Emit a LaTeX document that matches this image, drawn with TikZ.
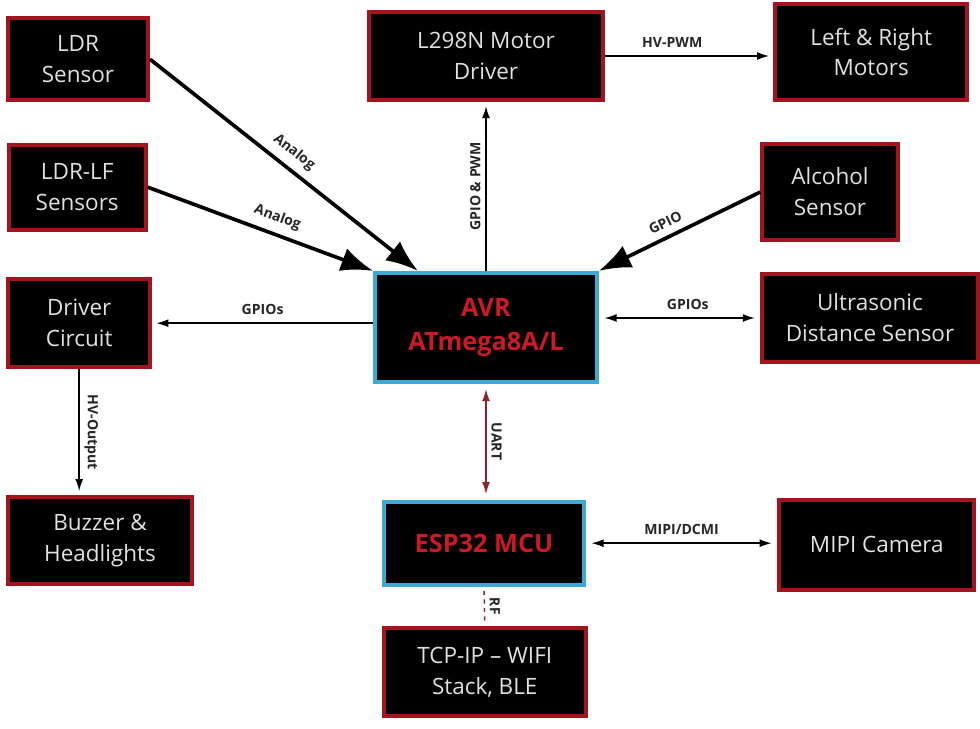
\documentclass[tikz,border=0pt]{standalone}
\usepackage{fontspec}
\setmainfont{Open Sans}
\usetikzlibrary{shapes,arrows.meta,positioning,calc}

\definecolor{boxred}{RGB}{165,20,30}
\definecolor{mcublue}{RGB}{60,170,215}
\definecolor{mcured}{RGB}{205,25,35}
\definecolor{linkred}{RGB}{140,35,45}
\definecolor{boxtext}{RGB}{225,225,225}

\begin{document}
\begin{tikzpicture}[
  block/.style={draw=boxred, line width=2.8pt, fill=black, text=boxtext, align=center, font=\fontsize{16}{22}\selectfont},
  mcu/.style={block, draw=mcublue, text=mcured, font=\fontsize{18}{24}\selectfont\bfseries},
  bigarrow/.style={line width=2.6pt, -{Latex[length=8mm,width=6mm]}},
  bigarrowrev/.style={line width=2.6pt, {Latex[length=8mm,width=6mm]}-},
  thinarrow/.style={line width=1pt, -{Latex[length=3mm,width=2mm]}, shorten >=3pt},
  thinboth/.style={line width=1pt, {Latex[length=3mm,width=2mm]}-{Latex[length=3mm,width=2mm]}, shorten >=4pt, shorten <=4pt},
  lbl/.style={font=\fontsize{10}{12}\selectfont\bfseries, text=black!85}
]
% 画布
\useasboundingbox (0,0) rectangle (24.5,18.2);

% 左侧模块
\node[block, minimum width=3.5cm, minimum height=2.05cm] (ldr) at (1.95,16.72) {LDR\\Sensor};
\node[block, minimum width=3.43cm, minimum height=2.12cm] (ldrlf) at (1.93,13.52) {LDR-LF\\Sensors};
\node[block, minimum width=3.55cm, minimum height=2.2cm] (drv) at (1.98,10.12) {Driver\\Circuit};
\node[block, minimum width=4.62cm, minimum height=2.18cm] (buzz) at (2.5,4.68) {Buzzer \&\\Headlights};

% 中间模块
\node[block, minimum width=5.85cm, minimum height=2.2cm] (l298) at (12.15,16.8) {L298N Motor\\Driver};
\node[mcu, minimum width=5.55cm, minimum height=2.72cm] (avr) at (12.15,10.02) {AVR\\ATmega8A/L};
\node[mcu, minimum width=5.0cm, minimum height=2.08cm] (esp) at (12.1,4.62) {ESP32 MCU};
\node[block, minimum width=5.05cm, minimum height=2.2cm] (tcp) at (12.12,1.4) {TCP-IP -- WIFI\\Stack, BLE};

% 右侧模块
\node[block, minimum width=4.8cm, minimum height=2.38cm] (motors) at (21.78,16.9) {Left \& Right\\Motors};
\node[block, minimum width=3.38cm, minimum height=2.38cm] (alc) at (20.75,13.4) {Alcohol\\Sensor};
\node[block, minimum width=5.38cm, minimum height=2.22cm] (ultra) at (21.75,10.25) {Ultrasonic\\Distance Sensor};
\node[block, minimum width=4.88cm, minimum height=2.25cm] (cam) at (21.92,4.58) {MIPI Camera};

% 传感器输入
\draw[bigarrow] (ldr.east) -- node[lbl, sloped, above=2pt]{Analog} ($(avr.north west)+(1.12,0)$);
\draw[bigarrow] (ldrlf.east) -- node[lbl, sloped, above=2pt, pos=0.55]{Analog} (avr.north west);
\draw[bigarrowrev] (avr.north east) -- node[lbl, sloped, above=2pt, pos=0.45]{GPIO} (alc.west);

% 连接线
\draw[thinarrow] (avr.north) -- node[lbl, sloped, above]{GPIO \& PWM} (l298.south);
\draw[thinarrow] (l298.east) -- node[lbl, above=2pt, pos=0.4]{HV-PWM} (l298.east -| motors.west);
\draw[thinarrow] (avr.west |- drv.east) -- node[lbl, above=2pt]{GPIOs} (drv.east);
\draw[thinboth] (avr.east |- ultra.west) -- node[lbl, above=2pt, pos=0.55]{GPIOs} (ultra.west);
\draw[thinarrow] (drv.south) -- node[lbl, sloped, above]{HV-Output} (drv.south |- buzz.north);
\draw[thinboth, draw=linkred] (avr.south) -- node[lbl, sloped, above]{UART} (esp.north -| avr.south);
\draw[thinboth] (esp.east) -- node[lbl, above=2pt]{MIPI/DCMI} (esp.east -| cam.west);
\draw[line width=1pt, draw=linkred, dashed, shorten >=3pt, shorten <=3pt] (esp.south) -- node[lbl, sloped, above]{RF} (tcp.north);
\end{tikzpicture}
\end{document}
